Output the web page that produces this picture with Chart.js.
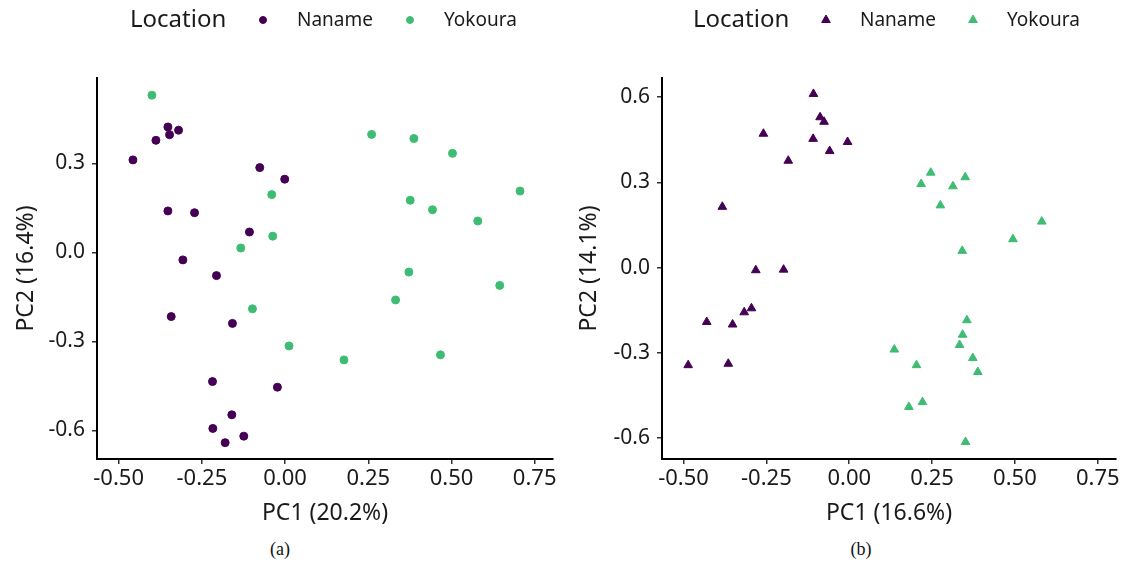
<!DOCTYPE html>
<html>
<head>
<meta charset="utf-8">
<script src="https://cdn.jsdelivr.net/npm/chart.js@4/dist/chart.umd.min.js"></script>
<style>
  body { margin: 0; background: #fff; width: 1126px; height: 565px; position: relative; overflow: hidden; }
  canvas { position: absolute; top: 0; }
  #c1 { left: 0; }
  #c2 { left: 563px; }
  .cap { position: absolute; top: 539px; width: 60px; text-align: center; font: 18px "Liberation Serif", serif; color: #111; }
</style>
</head>
<body>
<canvas id="c1" width="563" height="528"></canvas>
<canvas id="c2" width="563" height="528"></canvas>
<div class="cap" style="left:250px">(a)</div>
<div class="cap" style="left:831px">(b)</div>
<script>
// series names and colours
const locations = ['Naname', 'Yokoura']
const colors = ['#440154', '#3fbc73']

// panel (a)
const nanameAX = [-0.352, -0.320, -0.347, -0.388, -0.457, -0.076, -0.001, -0.352, -0.272, -0.107,
  -0.307, -0.206, -0.342, -0.158, -0.218, -0.023, -0.160, -0.217, -0.124, -0.180]
const nanameAY = [0.423, 0.412, 0.397, 0.378, 0.312, 0.286, 0.247, 0.140, 0.134, 0.069,
  -0.025, -0.078, -0.216, -0.239, -0.435, -0.454, -0.547, -0.593, -0.619, -0.641]
const yokouraAX = [-0.400, -0.040, -0.037, -0.133, -0.098, 0.012, 0.260, 0.387, 0.503, 0.706,
  0.376, 0.443, 0.579, 0.372, 0.645, 0.332, 0.177, 0.467]
const yokouraAY = [0.530, 0.195, 0.055, 0.015, -0.190, -0.315, 0.398, 0.384, 0.334, 0.207,
  0.176, 0.144, 0.106, -0.066, -0.111, -0.160, -0.362, -0.345]

// panel (b)
const nanameBX = [-0.108, -0.088, -0.076, -0.259, -0.109, -0.005, -0.059, -0.184, -0.383,
  -0.282, -0.198, -0.295, -0.317, -0.430, -0.352, -0.486, -0.365]
const nanameBY = [0.611, 0.529, 0.513, 0.471, 0.453, 0.442, 0.410, 0.376, 0.214,
  -0.009, -0.007, -0.143, -0.157, -0.191, -0.200, -0.343, -0.338]
const yokouraBX = [0.246, 0.350, 0.217, 0.313, 0.275, 0.581, 0.494, 0.341, 0.355, 0.342,
  0.333, 0.136, 0.373, 0.203, 0.388, 0.221, 0.180, 0.351]
const yokouraBY = [0.334, 0.318, 0.294, 0.286, 0.219, 0.162, 0.100, 0.059, -0.185, -0.236,
  -0.272, -0.288, -0.318, -0.343, -0.367, -0.473, -0.490, -0.613]

const textColor = '#1a1a1a'
const font = '"Noto Sans"'

const toPoints = (xs, ys) => xs.map((x, i) => ({ x: x, y: ys[i] }))

// ggplot-style legend: "Location" followed by the marker of each dataset
const legendPlugin = {
  id: 'locationLegend',
  afterDraw(chart) {
    const ctx = chart.ctx
    const y = 20
    const itemX = [263, 410]
    ctx.save()
    ctx.textBaseline = 'middle'
    ctx.fillStyle = textColor
    ctx.font = '24px ' + font
    ctx.fillText('Location', 130, y)
    chart.data.datasets.forEach((ds, i) => {
      ctx.fillStyle = ds.backgroundColor
      ctx.strokeStyle = ds.backgroundColor
      ctx.lineWidth = 1
      Chart.helpers.drawPoint(ctx, {
        pointStyle: ds.pointStyle,
        radius: ds.pointStyle === 'triangle' ? 5 : 3.5,
        borderWidth: 1,
        rotation: 0
      }, itemX[i], y)
      ctx.fillStyle = textColor
      ctx.font = '19px ' + font
      ctx.fillText(ds.label, itemX[i] + 34, y + 1)
    })
    ctx.restore()
  }
}

const makeChart = (id, style, nx, ny, yx, yy, xTitle, yTitle, yMin, yMax, yWidth) => {
  const datasets = [[nx, ny], [yx, yy]].map((d, i) => ({
    label: locations[i],
    data: toPoints(d[0], d[1]),
    pointStyle: style,
    backgroundColor: colors[i],
    borderColor: colors[i],
    borderWidth: 1,
    pointRadius: style === 'triangle' ? 5 : 4
  }))
  return new Chart(document.getElementById(id).getContext('2d'), {
    type: 'scatter',
    data: { datasets },
    options: {
      responsive: false,
      animation: false,
      devicePixelRatio: 1,
      layout: { padding: { top: 78, right: 10, left: 0, bottom: 0 } },
      plugins: { legend: { display: false }, tooltip: { enabled: false } },
      scales: {
        x: {
          type: 'linear',
          min: -0.565,
          max: 0.805,
          afterFit: s => { s.height = 528 - 459 },
          ticks: {
            stepSize: 0.25,
            includeBounds: false,
            color: textColor,
            font: { family: font, size: 22 },
            padding: 2,
            maxRotation: 0,
            callback: v => { const r = Math.round(v * 100) / 100; return (r === 0 ? 0 : r).toFixed(2) }
          },
          grid: { display: true, drawOnChartArea: false, drawTicks: true, tickLength: 5, color: '#333', lineWidth: 1.5 },
          border: { display: true, color: '#000', width: 2 },
          title: { display: true, text: xTitle, color: textColor, font: { family: font, size: 23 }, padding: { top: 0, bottom: 1 } }
        },
        y: {
          type: 'linear',
          min: yMin,
          max: yMax,
          afterFit: s => { s.width = yWidth },
          ticks: {
            stepSize: 0.3,
            includeBounds: false,
            color: textColor,
            font: { family: font, size: 21 },
            padding: 7,
            callback: v => { const r = Math.round(v * 10) / 10; return (r === 0 ? 0 : r).toFixed(1) }
          },
          grid: { display: true, drawOnChartArea: false, drawTicks: true, tickLength: 5, color: '#333', lineWidth: 1.5 },
          border: { display: true, color: '#000', width: 2 },
          title: { display: true, text: yTitle, color: textColor, font: { family: font, size: 23 }, padding: { top: 13, bottom: 0 } }
        }
      }
    },
    plugins: [legendPlugin]
  })
}

makeChart('c1', 'circle', nanameAX, nanameAY, yokouraAX, yokouraAY, 'PC1 (20.2%)', 'PC2 (16.4%)', -0.696, 0.588, 97)
makeChart('c2', 'triangle', nanameBX, nanameBY, yokouraBX, yokouraBY, 'PC1 (16.6%)', 'PC2 (14.1%)', -0.673, 0.667, 99)
</script>
</body>
</html>
